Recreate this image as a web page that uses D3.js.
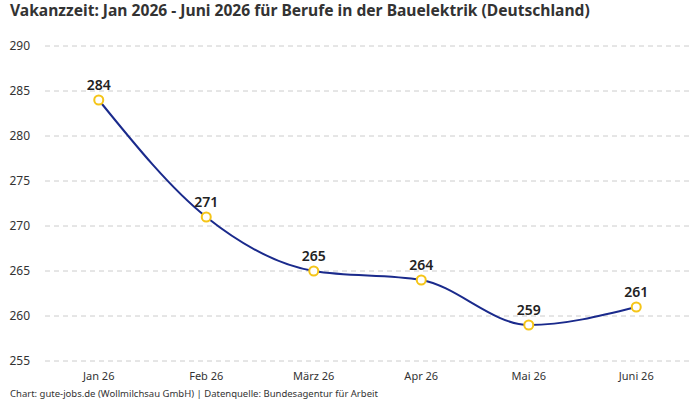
<!DOCTYPE html>
<html><head><meta charset="utf-8">
<script src="https://cdn.jsdelivr.net/npm/d3@7"></script>
<style>body{margin:0;background:#fff;font-family:"Noto Sans",Roboto,sans-serif;}</style>
</head><body><svg id="c" width="700" height="400"></svg>
<script>
const categories = ["Jan 26","Feb 26","März 26","Apr 26","Mai 26","Juni 26"];
const values = [284,271,265,264,259,261];
const yTicks = [255,260,265,270,275,280,285,290];
const title = "Vakanzzeit: Jan 2026 - Juni 2026 für Berufe in der Bauelektrik (Deutschland)";
const footer = "Chart: gute-jobs.de (Wollmilchsau GmbH) | Datenquelle: Bundesagentur für Arbeit";

const svg = d3.select("#c");
const font = '"Noto Sans",Roboto,sans-serif';
const x = d3.scalePoint().domain(categories).range([45,690]).padding(0.5);
const y = d3.scaleLinear().domain([255,290]).range([361,46]);

svg.append("text").attr("x",10).attr("y",16).attr("font-family",font).attr("font-size",15.6)
  .attr("font-weight","bold").attr("fill","#333").text(title);

const gy = svg.append("g");
yTicks.forEach(t=>{
  gy.append("line").attr("x1",45).attr("x2",690).attr("y1",y(t)).attr("y2",y(t))
    .attr("stroke","#ccc").attr("stroke-dasharray","5,4").attr("stroke-width",1);
  gy.append("text").attr("x",30).attr("y",y(t)).attr("dy","0.35em").attr("text-anchor","end")
    .attr("font-family",font).attr("font-size",12).attr("fill","#333").text(t);
});

svg.append("g").selectAll("text").data(categories).join("text")
  .attr("x",d=>x(d)).attr("y",380).attr("text-anchor","middle")
  .attr("font-family",font).attr("font-size",11).attr("fill","#333").text(d=>d);

const data = categories.map((c,i)=>({c,v:values[i]}));
const line = d3.line().x(d=>x(d.c)).y(d=>y(d.v)).curve(d3.curveMonotoneX);
svg.append("path").datum(data).attr("d",line).attr("fill","none")
  .attr("stroke","#1a2a8c").attr("stroke-width",2);

svg.append("g").selectAll("circle").data(data).join("circle")
  .attr("cx",d=>x(d.c)).attr("cy",d=>y(d.v)).attr("r",4.5)
  .attr("fill","#fff").attr("stroke","#f5c518").attr("stroke-width",2);

svg.append("g").selectAll("text").data(data).join("text")
  .attr("x",d=>x(d.c)).attr("y",d=>y(d.v)-10).attr("text-anchor","middle")
  .attr("font-family",font).attr("font-size",14).attr("font-weight",600).attr("fill","#222")
  .text(d=>d.v);

svg.append("text").attr("x",10).attr("y",397).attr("font-family",font).attr("font-size",9.5)
  .attr("fill","#333").text(footer);
</script></body></html>
